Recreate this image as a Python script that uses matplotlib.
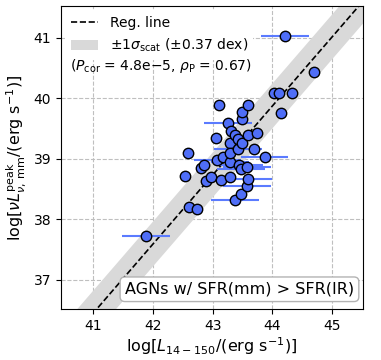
import matplotlib.pyplot as plt
import numpy as np

# log L_14-150 and log nuL_peak (mm)
log_lx = [41.88, 42.60, 42.73, 42.53, 42.58, 42.80, 42.85, 42.89, 42.98, 43.05,
          43.08, 43.11, 43.14, 43.18, 43.26, 43.29, 43.29, 43.29, 43.29, 43.31,
          43.38, 43.38, 43.42, 43.43, 43.45, 43.47, 43.47, 43.49, 43.49, 43.50,
          43.57, 43.58, 43.59, 43.60, 43.60, 43.70, 43.74, 43.87, 44.03, 44.12,
          44.14, 44.33, 44.21, 44.70]
log_lmm = [37.73, 38.21, 38.17, 38.72, 39.10, 38.85, 38.90, 38.64, 38.70, 39.34,
           38.98, 39.88, 38.65, 39.03, 39.59, 38.69, 38.95, 39.26, 39.10, 39.45,
           38.32, 39.39, 39.32, 39.16, 38.90, 38.42, 38.83, 39.26, 39.66, 39.77,
           38.55, 38.86, 39.39, 39.88, 38.67, 39.16, 39.42, 39.03, 40.08, 40.08,
           39.75, 40.08, 41.03, 40.44]
lx_err = [0.40, 0.0, 0.0, 0.0, 0.0, 0.0, 0.0, 0.0, 0.0, 0.0,
          0.40, 0.0, 0.0, 0.0, 0.40, 0.0, 0.32, 0.0, 0.0, 0.0,
          0.40, 0.0, 0.0, 0.40, 0.40, 0.0, 0.40, 0.0, 0.0, 0.0,
          0.40, 0.40, 0.0, 0.0, 0.40, 0.0, 0.0, 0.40, 0.0, 0.0,
          0.0, 0.0, 0.40, 0.0]

# regression y = slope * x + intercept, scatter 0.37 dex
slope = 1.14
intercept = -10.29
scatter = 0.37

fig = plt.figure(figsize=(3.81, 3.6), dpi=100)
ax = fig.add_axes([0.160, 0.142, 0.793, 0.841])

xx = np.array([40.0, 46.0])
yy = slope * xx + intercept
ax.fill_between(xx, yy - scatter, yy + scatter, color="0.85", lw=0,
                label=r"$\pm1\sigma_{\rm scat}$ ($\pm$0.37 dex)", zorder=1)
ax.plot(xx, yy, "k--", lw=1.2, label="Reg. line", zorder=2)

x = np.array(log_lx)
y = np.array(log_lmm)
xe = np.array(lx_err)
has_err = xe > 0
ax.errorbar(x[has_err], y[has_err], xerr=xe[has_err], fmt="none",
            ecolor="#5b7bff", elinewidth=1.5, capsize=0, zorder=3)
ax.plot(x, y, "o", ms=7.5, mfc="#4f6ef7", mec="k", mew=1.0, zorder=4)

ax.set_xlim(40.46, 45.52)
ax.set_ylim(36.52, 41.52)
ax.set_xticks([41, 42, 43, 44, 45])
ax.set_yticks([37, 38, 39, 40, 41])
ax.tick_params(labelsize=10)
ax.grid(True, ls="--", color="0.75", lw=0.8)
ax.set_axisbelow(True)

ax.set_xlabel(r"log[$L_{14-150}$/(erg s$^{-1}$)]", fontsize=11.5, labelpad=2)
ax.set_ylabel(r"log[$\nu L_{\nu,\,\rm mm}^{\rm peak}$/(erg s$^{-1}$)]", fontsize=11.5)

handles, labels = ax.get_legend_handles_labels()
leg = ax.legend(handles[::-1], labels[::-1], loc="upper left", fontsize=10,
                frameon=True, framealpha=1, edgecolor="none",
                borderaxespad=0.3, handlelength=2.0)
ax.text(0.03, 0.79, r"($P_{\rm cor}$ = 4.8e$-$5, $\rho_{\rm P}$ = 0.67)",
        transform=ax.transAxes, fontsize=10, zorder=6)

ax.text(0.97, 0.04, "AGNs w/ SFR(mm) > SFR(IR)", transform=ax.transAxes,
        ha="right", va="bottom", fontsize=11.5, zorder=6,
        bbox=dict(boxstyle="round,pad=0.3", fc="white", ec="0.7"))

plt.savefig("out.png", dpi=100)
